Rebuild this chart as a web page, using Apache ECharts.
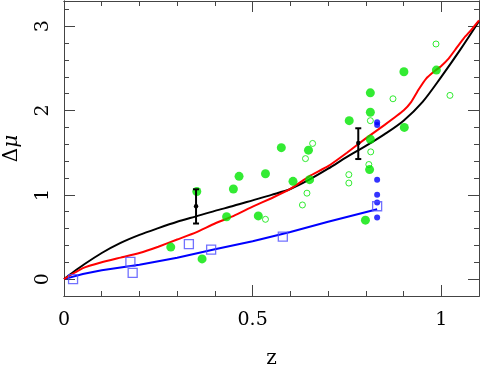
<!DOCTYPE html>
<html>
<head>
<meta charset="utf-8">
<script src="https://cdn.jsdelivr.net/npm/echarts@6/dist/echarts.min.js"></script>
<style>
html, body { margin: 0; padding: 0; background: #fff; }
#chart { width: 480px; height: 368px; }
</style>
</head>
<body>
<div id="chart"></div>
<script>
// model curves
var blackZ  = [0, 0.025, 0.05, 0.1, 0.15, 0.2, 0.25, 0.3, 0.35, 0.4, 0.45, 0.5, 0.55, 0.6, 0.65, 0.7, 0.75, 0.8, 0.85, 0.9, 0.95, 1.0, 1.05, 1.1];
var blackMu = [0, 0.085, 0.165, 0.31, 0.43, 0.525, 0.605, 0.68, 0.745, 0.81, 0.87, 0.935, 1.00, 1.07, 1.18, 1.31, 1.45, 1.58, 1.72, 1.88, 2.10, 2.40, 2.72, 3.06];

var redZ  = [0, 0.05, 0.1, 0.15, 0.2, 0.25, 0.3, 0.35, 0.4, 0.45, 0.5, 0.55, 0.6, 0.65, 0.7, 0.75, 0.8, 0.85, 0.9, 0.92, 0.94, 0.96, 0.98, 1.0, 1.02, 1.04, 1.06, 1.08, 1.1];
var redMu = [0, 0.13, 0.2, 0.255, 0.31, 0.385, 0.47, 0.555, 0.66, 0.75, 0.86, 0.96, 1.07, 1.22, 1.34, 1.50, 1.67, 1.83, 2.00, 2.10, 2.25, 2.38, 2.46, 2.53, 2.62, 2.74, 2.86, 2.96, 3.07];

var blueZ  = [0, 0.05, 0.1, 0.2, 0.3, 0.4, 0.5, 0.6, 0.7, 0.83];
var blueMu = [0, 0.06, 0.105, 0.17, 0.255, 0.355, 0.45, 0.56, 0.68, 0.83];

// data points
var fullGreenZ  = [0.283, 0.352, 0.366, 0.431, 0.449, 0.464, 0.515, 0.534, 0.576, 0.607, 0.648, 0.651, 0.756, 0.799, 0.810, 0.812, 0.812, 0.812, 0.901, 0.902, 0.987];
var fullGreenMu = [0.38, 1.04, 0.24, 0.74, 1.07, 1.22, 0.75, 1.25, 1.56, 1.16, 1.53, 1.18, 1.88, 0.70, 1.30, 1.66, 1.98, 2.21, 2.46, 1.80, 2.48];

var openGreenZ  = [0.534, 0.632, 0.644, 0.640, 0.659, 0.755, 0.755, 0.808, 0.813, 0.812, 0.872, 0.986, 1.023];
var openGreenMu = [0.71, 0.88, 1.02, 1.43, 1.61, 1.14, 1.24, 1.36, 1.51, 1.88, 2.14, 2.79, 2.18];

var blueDotZ  = [0.83, 0.83, 0.83, 0.83, 0.83, 0.83];
var blueDotMu = [1.86, 1.83, 1.18, 1.00, 0.91, 0.73];

var squareZ  = [0.024, 0.176, 0.182, 0.331, 0.39, 0.58, 0.83];
var squareMu = [0.0, 0.205, 0.075, 0.415, 0.35, 0.505, 0.865];

// error bars
var errZ   = [0.35, 0.78];
var errMid = [0.865, 1.615];
var errLo  = [0.66, 1.425];
var errHi  = [1.066, 1.79];

var xMajor = [0, 0.5, 1];
var yMajor = [0, 1, 2, 3];

function pairs(a, b) {
    var out = [];
    for (var i = 0; i < a.length; i++) out.push([a[i], b[i]]);
    return out;
}

var font = 'DejaVu Serif';
var frame = { show: true, onZero: false, lineStyle: { color: '#444', width: 1 } };

function xAx(pos, major) {
    var a = {
        type: 'value', position: pos, min: 0, max: 1.1, interval: 0.1,
        axisLine: frame, splitLine: { show: false },
        axisTick: { show: true, inside: true, length: 5, lineStyle: { color: '#444' } },
        axisLabel: { show: false }
    };
    if (major) {
        a.axisTick = { show: true, inside: true, length: 11, customValues: xMajor, lineStyle: { color: '#444' } };
        if (pos === 'bottom') {
            a.axisLabel = { show: true, customValues: xMajor, margin: 15, color: '#000', fontFamily: font, fontSize: 19 };
            a.name = 'z';
            a.nameLocation = 'middle';
            a.nameGap = 53;
            a.nameTextStyle = { color: '#000', fontFamily: font, fontSize: 20 };
        }
    }
    return a;
}

function yAx(pos, major) {
    var a = {
        type: 'value', position: pos, min: -0.2, max: 3.3, interval: 0.2,
        axisLine: frame, splitLine: { show: false },
        axisTick: { show: true, inside: true, length: 5, lineStyle: { color: '#444' } },
        axisLabel: { show: false }
    };
    if (major) {
        a.axisTick = { show: true, inside: true, length: 11, customValues: yMajor, lineStyle: { color: '#444' } };
        if (pos === 'left') {
            a.axisLabel = { show: true, customValues: yMajor, rotate: 90, margin: 11, color: '#000', fontFamily: font, fontSize: 19 };
            a.name = '{a|Δ}{b|μ}';
            a.nameLocation = 'middle';
            a.nameGap = 42;
            a.nameTextStyle = {
                rich: {
                    a: { fontFamily: font, fontSize: 20, color: '#000' },
                    b: { fontFamily: font, fontSize: 20, fontStyle: 'italic', color: '#000' }
                }
            };
        }
    }
    return a;
}

var chart = echarts.init(document.getElementById('chart'));
var option = {
    animation: false,
    backgroundColor: '#fff',
    grid: { left: 64, right: 1, top: 1, bottom: 72, outerBoundsMode: 'none', containLabel: false },
    xAxis: [xAx('bottom', false), xAx('bottom', true), xAx('top', false), xAx('top', true)],
    yAxis: [yAx('left', false), yAx('left', true), yAx('right', false), yAx('right', true)],
    series: [
        {
            type: 'line', data: pairs(blueZ, blueMu), showSymbol: false, symbol: 'none',
            lineStyle: { color: '#0000ff', width: 2 }, z: 2
        },
        {
            type: 'line', data: pairs(blackZ, blackMu), showSymbol: false, symbol: 'none', smooth: 0.3,
            lineStyle: { color: '#000', width: 2 }, z: 2
        },
        {
            type: 'line', data: pairs(redZ, redMu), showSymbol: false, symbol: 'none', smooth: 0.15,
            lineStyle: { color: '#ff0000', width: 2 }, z: 2
        },
        {
            type: 'scatter', data: pairs(fullGreenZ, fullGreenMu), symbol: 'circle', symbolSize: 9,
            itemStyle: { color: '#00e600' }, z: 3
        },
        {
            type: 'scatter', data: pairs(openGreenZ, openGreenMu), symbol: 'circle', symbolSize: 6,
            itemStyle: { color: 'rgba(0,0,0,0)', borderColor: '#00e600', borderWidth: 1 }, z: 3
        },
        {
            type: 'scatter', data: pairs(blueDotZ, blueDotMu), symbol: 'circle', symbolSize: 6,
            itemStyle: { color: '#0000ff' }, z: 3
        },
        {
            type: 'scatter', data: pairs(squareZ, squareMu), symbol: 'rect', symbolSize: 9,
            itemStyle: { color: 'rgba(0,0,0,0)', borderColor: '#4d4dff', borderWidth: 1.3 }, z: 3
        },
        {
            type: 'custom', z: 4,
            data: errZ.map(function (z, i) { return [z, errMid[i], errLo[i], errHi[i]]; }),
            renderItem: function (params, api) {
                var x = api.value(0);
                var top = api.coord([x, api.value(3)]);
                var bot = api.coord([x, api.value(2)]);
                var mid = api.coord([x, api.value(1)]);
                var s = { stroke: '#000', lineWidth: 2 };
                return {
                    type: 'group',
                    children: [
                        { type: 'line', shape: { x1: top[0], y1: top[1], x2: bot[0], y2: bot[1] }, style: s },
                        { type: 'line', shape: { x1: top[0] - 3, y1: top[1], x2: top[0] + 3, y2: top[1] }, style: s },
                        { type: 'line', shape: { x1: bot[0] - 3, y1: bot[1], x2: bot[0] + 3, y2: bot[1] }, style: s },
                        { type: 'circle', shape: { cx: mid[0], cy: mid[1], r: 2.2 }, style: { fill: '#000' } }
                    ]
                };
            }
        }
    ]
};
chart.setOption(option);
</script>
</body>
</html>
